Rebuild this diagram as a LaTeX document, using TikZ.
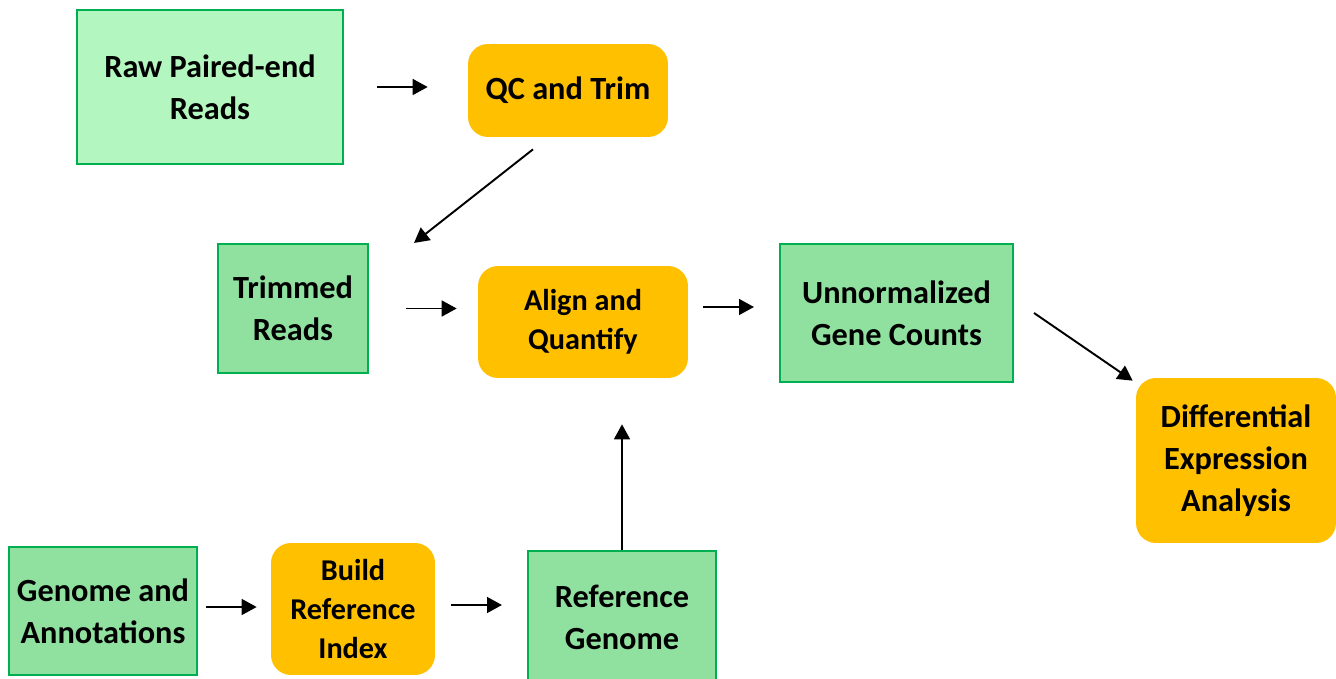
\documentclass[tikz,border=0pt]{standalone}
\usepackage{fontspec}
\setmainfont{Carlito}
\usetikzlibrary{arrows.meta}

\definecolor{rawgreen}{RGB}{179,246,192}
\definecolor{readgreen}{RGB}{144,224,160}
\definecolor{boxedge}{RGB}{0,176,80}
\definecolor{stepgold}{RGB}{255,192,0}

\tikzset{
    databox/.style={draw=boxedge, line width=1.2pt, fill=readgreen, align=center, inner sep=0pt, font=\fontsize{18.4}{24}\selectfont\bfseries},
    toolbox/.style={fill=stepgold, rounded corners=0.4cm, align=center, inner sep=0pt, font=\fontsize{18.4}{24}\selectfont\bfseries},
    smalltool/.style={toolbox, font=\fontsize{17.2}{22.2}\selectfont\bfseries},
    flow/.style={-{Triangle[length=8.5pt,width=9pt]}, line width=1.1pt}
}

\begin{document}
\begin{tikzpicture}[x=0.02cm, y=-0.02cm]
        \useasboundingbox (0,0) rectangle (1336,679);

        % Read inputs and trimming
        \node[databox, fill=rawgreen, minimum width=5.32cm, minimum height=3.08cm] (raw) at (210,87) {Raw Paired-end\\Reads};
        \node[toolbox, minimum width=4cm, minimum height=1.86cm] (qc) at (568,90.5) {QC and Trim};
        \node[databox, minimum width=3cm, minimum height=2.58cm] (trimmed) at (293,308.5) {Trimmed\\Reads};

        % Alignment and counts
        \node[smalltool, minimum width=4.2cm, minimum height=2.24cm] (align) at (583,322) {Align and\\Quantify};
        \node[databox, minimum width=4.66cm, minimum height=2.76cm] (counts) at (896.5,313) {Unnormalized\\Gene Counts};
        \node[toolbox, minimum width=4cm, minimum height=3.3cm] (dea) at (1236,460.5) {Differential\\Expression\\Analysis};

        % Reference genome branch
        \node[databox, minimum width=3.76cm, minimum height=2.56cm] (genome) at (103,611) {Genome and\\Annotations};
        \node[smalltool, minimum width=3.28cm, minimum height=2.64cm] (build) at (353,609) {Build\\Reference\\Index};
        \node[databox, minimum width=3.76cm, minimum height=2.64cm] (ref) at (622,617) {Reference\\Genome};

        % Arrows between steps
        \draw[flow, shorten <=0.66cm, shorten >=0.8cm] (raw.east) -- (qc.west |- raw.east);
        \draw[flow] ([xshift=-0.7cm, yshift=-0.24cm]qc.south) -- ([xshift=0.9cm]trimmed.north east);
        \draw[flow, shorten <=0.74cm, shorten >=0.42cm] (trimmed.east) -- (align.west |- trimmed.east);
        \draw[flow, shorten <=0.3cm, shorten >=0.5cm] ([yshift=0.12cm]align.east |- counts.west) -- ([yshift=0.12cm]counts.west);
        \draw[flow] ([xshift=0.4cm]counts.east) -- ([xshift=-0.06cm, yshift=-0.06cm]dea.north west);
        \draw[flow, shorten <=0.16cm, shorten >=0.28cm] ([yshift=0.08cm]genome.east) -- ([yshift=0.08cm]build.west |- genome.east);
        \draw[flow, shorten <=0.32cm, shorten >=0.5cm] ([yshift=0.08cm]build.east) -- ([yshift=0.08cm]ref.west |- build.east);
        \draw[flow, shorten >=0.92cm] (ref.north) -- (ref.north |- align.south);
\end{tikzpicture}
\end{document}
